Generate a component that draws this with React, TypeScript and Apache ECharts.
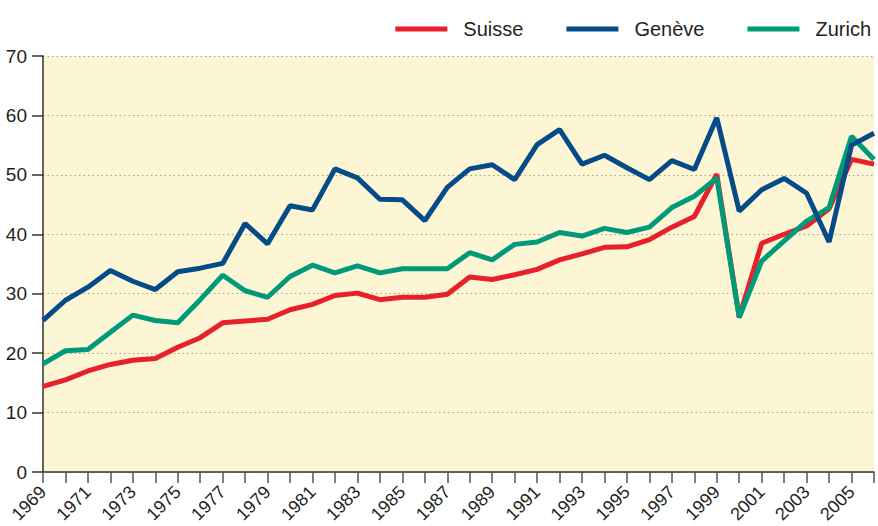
import React, { useEffect, useRef } from "react";
import * as echarts from "echarts";

const years: string[] = [];
for (let y = 1969; y <= 2006; y++) years.push(String(y));

const suisse = [14.4, 15.5, 17.0, 18.1, 18.8, 19.1, 21.0, 22.6, 25.1, 25.4, 25.7, 27.3, 28.2, 29.7, 30.1, 29.0, 29.4, 29.4, 29.9, 32.8, 32.4, 33.2, 34.1, 35.7, 36.7, 37.8, 37.9, 39.1, 41.2, 43.0, 50.1, 26.1, 38.5, 40.0, 41.4, 44.3, 52.6, 51.8];
const geneve = [25.5, 28.9, 31.1, 33.9, 32.1, 30.7, 33.7, 34.3, 35.1, 41.8, 38.4, 44.8, 44.1, 51.0, 49.5, 45.9, 45.8, 42.3, 47.9, 51.0, 51.7, 49.2, 55.1, 57.6, 51.8, 53.3, 51.2, 49.2, 52.4, 50.9, 59.6, 43.9, 47.5, 49.4, 46.9, 38.7, 55.0, 57.0];
const zurich = [18.2, 20.4, 20.6, 23.5, 26.4, 25.5, 25.1, 29.0, 33.1, 30.5, 29.4, 32.9, 34.8, 33.5, 34.7, 33.5, 34.2, 34.2, 34.2, 36.9, 35.7, 38.3, 38.7, 40.3, 39.7, 41.0, 40.3, 41.2, 44.5, 46.4, 49.5, 26.0, 35.5, 38.9, 42.2, 44.5, 56.5, 52.6];

const FONT = "'Liberation Sans', Arial, Helvetica, sans-serif";
const TEXT = "#231f20";

export default function App() {
  const ref = useRef<HTMLDivElement>(null);
  useEffect(() => {
    if (!ref.current) return;
    const chart = echarts.init(ref.current, undefined, { renderer: "svg" });
    chart.setOption({
      animation: false,
      backgroundColor: "#ffffff",
      textStyle: { fontFamily: FONT },
      legend: {
        right: 2,
        top: 14,
        icon: "rect",
        itemWidth: 52,
        itemHeight: 5,
        itemGap: 43,
        data: ["Suisse", "Genève", "Zurich"],
        textStyle: { fontSize: 20, color: TEXT, fontFamily: FONT, padding: [0, 0, 0, 11] },
      },
      grid: {
        left: 43,
        right: 4,
        top: 56,
        bottom: 54,
        show: true,
        backgroundColor: "#fcf6d4",
        borderWidth: 0,
        containLabel: false,
        outerBoundsMode: "none",
      },
      xAxis: {
        type: "category",
        data: years,
        boundaryGap: false,
        axisLine: { lineStyle: { color: "#333", width: 1.5 } },
        axisTick: { show: true, length: 11, interval: 0, lineStyle: { color: "#555", width: 1.5 } },
        axisLabel: {
          interval: 1,
          rotate: 45,
          margin: 17,
          fontSize: 18,
          color: TEXT,
          fontFamily: FONT,
        },
        splitLine: { show: false },
      },
      yAxis: {
        type: "value",
        min: 0,
        max: 70,
        interval: 10,
        axisLine: { show: true, lineStyle: { color: "#333", width: 1.5 } },
        axisTick: { show: true, length: 11, lineStyle: { color: "#333", width: 1.5 } },
        axisLabel: { margin: 16, fontSize: 19, color: TEXT, fontFamily: FONT },
        splitLine: { show: true, lineStyle: { color: "#a89f80", type: [1.5, 3], width: 1 } },
      },
      series: [
        { name: "Suisse", type: "line", data: suisse, showSymbol: false, symbol: "none", z: 2, lineStyle: { width: 5, color: "#e8202a" }, itemStyle: { color: "#e8202a" } },
        { name: "Zurich", type: "line", data: zurich, showSymbol: false, symbol: "none", z: 3, lineStyle: { width: 5, color: "#009a7a" }, itemStyle: { color: "#009a7a" } },
        { name: "Genève", type: "line", data: geneve, showSymbol: false, symbol: "none", z: 4, lineStyle: { width: 5, color: "#044b88" }, itemStyle: { color: "#044b88" } },
      ],
    });
    return () => chart.dispose();
  }, []);
  return <div ref={ref} style={{ position: "absolute", left: 0, top: 0, width: 878, height: 526 }} />;
}
